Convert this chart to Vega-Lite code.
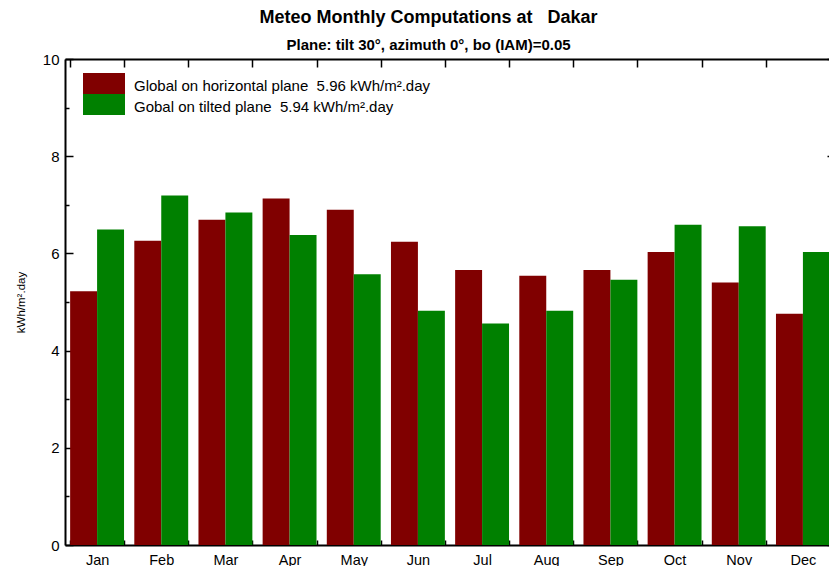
{
  "$schema": "https://vega.github.io/schema/vega-lite/v6.json",
  "width": 764,
  "height": 486,
  "autosize": {"type": "none"},
  "padding": {"left": 65, "top": 59, "right": 0, "bottom": 21},
  "background": "white",
  "title": {
    "text": "Meteo Monthly Computations at\u00a0\u00a0\u00a0Dakar",
    "subtitle": "Plane: tilt 30°, azimuth 0°, bo (IAM)=0.05",
    "anchor": "middle",
    "frame": "bounds",
    "dx": 3,
    "font": "Liberation Sans",
    "fontSize": 18,
    "fontWeight": "bold",
    "color": "black",
    "subtitleFont": "Liberation Sans",
    "subtitleFontSize": 15,
    "subtitleFontWeight": "bold",
    "subtitleColor": "black",
    "offset": -1,
    "subtitlePadding": 11
  },
  "config": {
    "view": {"stroke": null},
    "font": "Liberation Sans",
    "axis": {
      "domainColor": "black",
      "domainWidth": 2,
      "tickColor": "black",
      "tickWidth": 1.5,
      "labelColor": "black",
      "labelFont": "Liberation Sans",
      "titleColor": "black",
      "titleFont": "Liberation Sans",
      "grid": false
    }
  },
  "data": {
    "values": [
      {"month": "Jan", "series": "Global on horizontal plane\u00a0 5.96 kWh/m².day", "value": 5.22},
      {"month": "Jan", "series": "Gobal on tilted plane\u00a0 5.94 kWh/m².day", "value": 6.49},
      {"month": "Feb", "series": "Global on horizontal plane\u00a0 5.96 kWh/m².day", "value": 6.26},
      {"month": "Feb", "series": "Gobal on tilted plane\u00a0 5.94 kWh/m².day", "value": 7.19},
      {"month": "Mar", "series": "Global on horizontal plane\u00a0 5.96 kWh/m².day", "value": 6.69},
      {"month": "Mar", "series": "Gobal on tilted plane\u00a0 5.94 kWh/m².day", "value": 6.84},
      {"month": "Apr", "series": "Global on horizontal plane\u00a0 5.96 kWh/m².day", "value": 7.13},
      {"month": "Apr", "series": "Gobal on tilted plane\u00a0 5.94 kWh/m².day", "value": 6.38},
      {"month": "May", "series": "Global on horizontal plane\u00a0 5.96 kWh/m².day", "value": 6.90},
      {"month": "May", "series": "Gobal on tilted plane\u00a0 5.94 kWh/m².day", "value": 5.57},
      {"month": "Jun", "series": "Global on horizontal plane\u00a0 5.96 kWh/m².day", "value": 6.24},
      {"month": "Jun", "series": "Gobal on tilted plane\u00a0 5.94 kWh/m².day", "value": 4.82},
      {"month": "Jul", "series": "Global on horizontal plane\u00a0 5.96 kWh/m².day", "value": 5.66},
      {"month": "Jul", "series": "Gobal on tilted plane\u00a0 5.94 kWh/m².day", "value": 4.56},
      {"month": "Aug", "series": "Global on horizontal plane\u00a0 5.96 kWh/m².day", "value": 5.54},
      {"month": "Aug", "series": "Gobal on tilted plane\u00a0 5.94 kWh/m².day", "value": 4.82},
      {"month": "Sep", "series": "Global on horizontal plane\u00a0 5.96 kWh/m².day", "value": 5.66},
      {"month": "Sep", "series": "Gobal on tilted plane\u00a0 5.94 kWh/m².day", "value": 5.46},
      {"month": "Oct", "series": "Global on horizontal plane\u00a0 5.96 kWh/m².day", "value": 6.03},
      {"month": "Oct", "series": "Gobal on tilted plane\u00a0 5.94 kWh/m².day", "value": 6.59},
      {"month": "Nov", "series": "Global on horizontal plane\u00a0 5.96 kWh/m².day", "value": 5.40},
      {"month": "Nov", "series": "Gobal on tilted plane\u00a0 5.94 kWh/m².day", "value": 6.56},
      {"month": "Dec", "series": "Global on horizontal plane\u00a0 5.96 kWh/m².day", "value": 4.76},
      {"month": "Dec", "series": "Gobal on tilted plane\u00a0 5.94 kWh/m².day", "value": 6.03}
    ]
  },
  "layer": [
    {
      "mark": {"type": "bar"},
      "encoding": {
        "x": {
          "field": "month",
          "type": "nominal",
          "sort": ["Jan", "Feb", "Mar", "Apr", "May", "Jun", "Jul", "Aug", "Sep", "Oct", "Nov", "Dec"],
          "scale": {"paddingInner": 0.16, "paddingOuter": 0.08, "range": [0, 770]},
          "axis": {
            "orient": "bottom",
            "title": null,
            "labelAngle": 0,
            "tickBand": "extent",
            "tickSize": -5,
            "labelFontSize": 14.5,
            "labelPadding": 13
          }
        },
        "xOffset": {
          "field": "series",
          "type": "nominal",
          "sort": ["Global on horizontal plane\u00a0 5.96 kWh/m².day", "Gobal on tilted plane\u00a0 5.94 kWh/m².day"],
          "scale": {"paddingInner": 0, "paddingOuter": 0}
        },
        "y": {
          "field": "value",
          "type": "quantitative",
          "scale": {"domain": [0, 10], "nice": false},
          "axis": {
            "orient": "left",
            "title": "kWh/m².day",
            "titleFontSize": 11.5,
            "titleFontWeight": "normal",
            "titlePadding": 16,
            "values": [0, 1, 2, 3, 4, 5, 6, 7, 8, 9, 10],
            "labelExpr": "datum.value % 2 ? '' : datum.label",
            "tickSize": {"condition": {"test": "datum.value % 2 === 1", "value": -4}, "value": -8},
            "labelFontSize": 15,
            "labelPadding": 14
          }
        },
        "color": {
          "field": "series",
          "type": "nominal",
          "scale": {
            "domain": ["Global on horizontal plane\u00a0 5.96 kWh/m².day", "Gobal on tilted plane\u00a0 5.94 kWh/m².day"],
            "range": ["#800000", "#008000"]
          },
          "legend": {
            "title": null,
            "orient": "none",
            "legendX": 18,
            "legendY": 14,
            "symbolType": "M-1,-1H1V0H-1Z",
            "symbolSize": 1764,
            "symbolStrokeWidth": 0,
            "symbolOpacity": 1,
            "labelFontSize": 15,
            "labelColor": "black",
            "labelBaseline": "bottom",
            "labelOffset": 9,
            "labelLimit": 400,
            "rowPadding": 0,
            "padding": 0
          }
        }
      }
    },
    {
      "mark": {"type": "bar", "opacity": 0},
      "encoding": {
        "x": {
          "field": "month",
          "type": "nominal",
          "sort": ["Jan", "Feb", "Mar", "Apr", "May", "Jun", "Jul", "Aug", "Sep", "Oct", "Nov", "Dec"],
          "axis": {
            "orient": "top",
            "title": null,
            "labels": false,
            "tickBand": "extent",
            "tickSize": -8
          }
        },
        "xOffset": {
          "field": "series",
          "type": "nominal",
          "sort": ["Global on horizontal plane\u00a0 5.96 kWh/m².day", "Gobal on tilted plane\u00a0 5.94 kWh/m².day"]
        },
        "y": {
          "field": "value",
          "type": "quantitative",
          "axis": {
            "orient": "right",
            "title": null,
            "labels": false,
            "offset": 6,
            "values": [0, 1, 2, 3, 4, 5, 6, 7, 8, 9, 10],
            "tickSize": {"condition": {"test": "datum.value % 2 === 1", "value": -4}, "value": -8}
          }
        }
      }
    }
  ],
  "resolve": {"axis": {"x": "independent", "y": "independent"}}
}
